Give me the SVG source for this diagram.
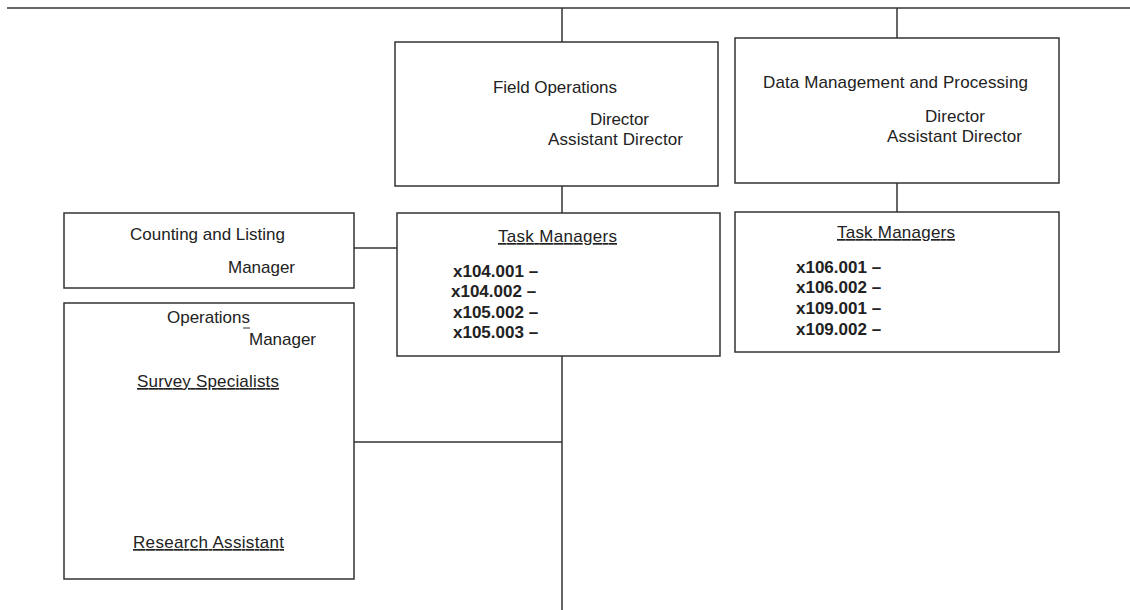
<svg xmlns="http://www.w3.org/2000/svg" width="1130" height="610" viewBox="0 0 1130 610">
<style>
.box{fill:#fff;stroke:#333;stroke-width:1.5}
.ln{stroke:#333;stroke-width:1.5;fill:none}
text{font-family:"Liberation Sans",Arial,sans-serif;font-size:17px;fill:#222}
.b{font-weight:bold}
.u{text-decoration:underline}
</style>
<rect width="1130" height="610" fill="#fff"/>
<g id="connectors">
<line class="ln" x1="7" y1="8" x2="1130" y2="8"/>
<line class="ln" x1="562" y1="8" x2="562" y2="42"/>
<line class="ln" x1="897" y1="8" x2="897" y2="38"/>
<line class="ln" x1="562" y1="186" x2="562" y2="213"/>
<line class="ln" x1="897" y1="183" x2="897" y2="212"/>
<line class="ln" x1="354" y1="248" x2="397" y2="248"/>
<line class="ln" x1="562" y1="356" x2="562" y2="610"/>
<line class="ln" x1="354" y1="442" x2="562" y2="442"/>
</g>
<g id="field-operations">
<rect class="box" x="395" y="42" width="323" height="144"/>
<text x="493" y="93" textLength="124">Field Operations</text>
<text x="590" y="125" textLength="59">Director</text>
<text x="548" y="145" textLength="135">Assistant Director</text>
</g>
<g id="data-management">
<rect class="box" x="735" y="38" width="324" height="145"/>
<text x="763" y="88" textLength="265">Data Management and Processing</text>
<text x="925" y="122" textLength="60">Director</text>
<text x="887" y="142" textLength="135">Assistant Director</text>
</g>
<g id="counting-listing">
<rect class="box" x="64" y="213" width="290" height="75"/>
<text x="130" y="240" textLength="155">Counting and Listing</text>
<text x="228" y="273" textLength="67">Manager</text>
</g>
<g id="operations">
<rect class="box" x="64" y="303" width="290" height="276"/>
<text x="167" y="323" textLength="83">Operations</text>
<line x1="243" y1="328" x2="250" y2="328" stroke="#333" stroke-width="1"/>
<text x="249" y="345" textLength="67">Manager</text>
<text class="u" x="137" y="387" textLength="142">Survey Specialists</text>
<text class="u" x="133" y="548" textLength="151">Research Assistant</text>
</g>
<g id="field-task-managers">
<rect class="box" x="397" y="213" width="323" height="143"/>
<text class="u" x="498" y="242" textLength="119">Task Managers</text>
<text class="b" x="453" y="277">x104.001 –</text>
<text class="b" x="451" y="297">x104.002 –</text>
<text class="b" x="453" y="318">x105.002 –</text>
<text class="b" x="453" y="338">x105.003 –</text>
</g>
<g id="data-task-managers">
<rect class="box" x="735" y="212" width="324" height="140"/>
<text class="u" x="837" y="238" textLength="118">Task Managers</text>
<text class="b" x="796" y="273">x106.001 –</text>
<text class="b" x="796" y="293">x106.002 –</text>
<text class="b" x="796" y="314">x109.001 –</text>
<text class="b" x="796" y="335">x109.002 –</text>
</g>
</svg>
